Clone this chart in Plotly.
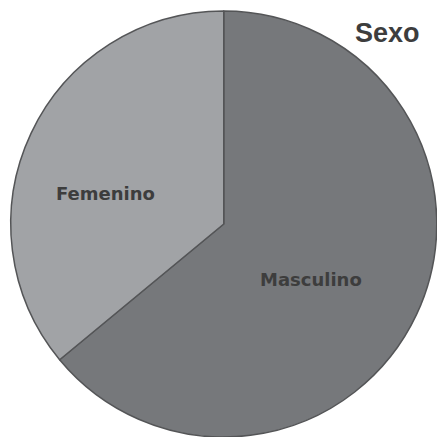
import plotly.graph_objects as go

labels = ["Masculino", "Femenino"]
values = [64, 36]
colors = ["#76787b", "#a1a3a6"]
title_text = "Sexo"

W = H = 437

fig = go.Figure()
fig.add_trace(go.Pie(
    labels=labels,
    values=values,
    sort=False,
    direction="clockwise",
    rotation=0,
    marker=dict(colors=colors, line=dict(color="#545557", width=1.5)),
    textinfo="none",
    hoverinfo="label+percent",
    showlegend=False,
    domain=dict(x=[10.5 / W, 1.0], y=[0.0, 426 / H]),
))

label_pos = {"Femenino": (105.5, 193), "Masculino": (310.5, 279)}
for lab in labels:
    px, py = label_pos[lab]
    fig.add_annotation(
        text="<b>%s</b>" % lab, x=px / W, y=1 - py / H, xref="paper", yref="paper",
        showarrow=False, xanchor="center", yanchor="middle",
        font=dict(family="DejaVu Sans", size=18, color="#3d3d3d"),
    )

fig.add_annotation(
    text="<b>%s</b>" % title_text, x=387 / W, y=1 - 33 / H, xref="paper", yref="paper",
    showarrow=False, xanchor="center", yanchor="middle",
    font=dict(family="Liberation Sans", size=27, color="#3d3d3d"),
)

fig.update_layout(
    width=W, height=H, margin=dict(l=0, r=0, t=0, b=0),
    paper_bgcolor="white", plot_bgcolor="white",
)
fig.write_html("out.html")
